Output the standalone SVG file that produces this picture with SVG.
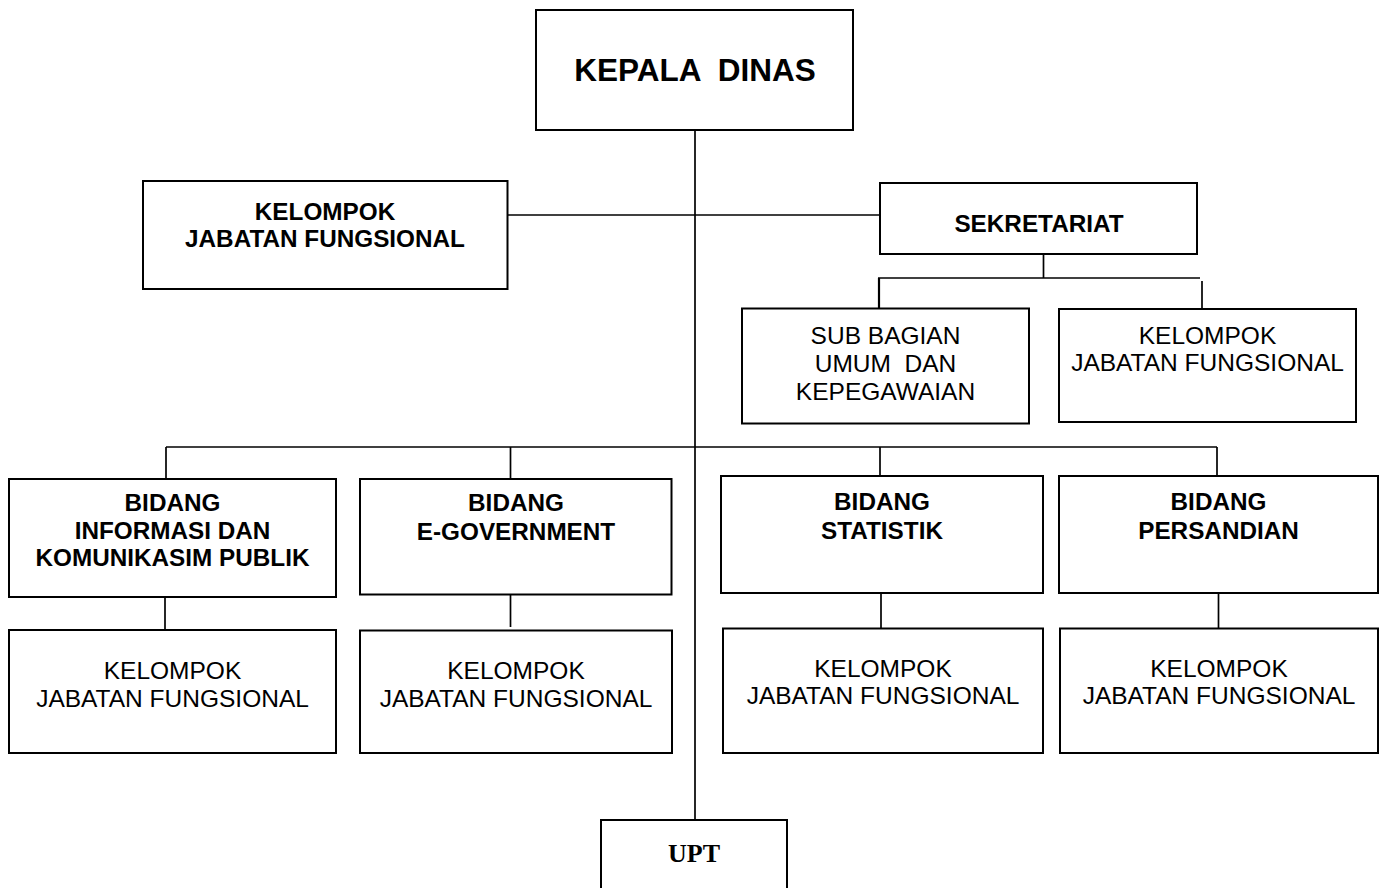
<svg xmlns="http://www.w3.org/2000/svg" width="1383" height="888" viewBox="0 0 1383 888">
<style>
.box{fill:#fff;stroke:#000;stroke-width:2}
.ln{fill:none;stroke:#000;stroke-width:1.7}
.ln2{fill:none;stroke:#000;stroke-width:2.2}
.b{font-family:"Liberation Sans",Arial,sans-serif;font-weight:bold;font-size:24.3px;text-anchor:middle;fill:#000}
.r{font-family:"Liberation Sans",Arial,sans-serif;font-size:24.5px;text-anchor:middle;fill:#000}
.t{font-family:"Liberation Sans",Arial,sans-serif;font-weight:bold;font-size:31.5px;text-anchor:middle;fill:#000}
.s{font-family:"Liberation Serif","Times New Roman",serif;font-weight:bold;font-size:26px;text-anchor:middle;fill:#000}
</style>
<rect width="1383" height="888" fill="#fff"/>
<g id="connectors">
<line class="ln" x1="695" y1="130" x2="695" y2="820"/>
<line class="ln" x1="507" y1="215" x2="880" y2="215"/>
<line class="ln" x1="1043.5" y1="254" x2="1043.5" y2="278"/>
<line class="ln" x1="878" y1="278" x2="1200" y2="278"/>
<line class="ln2" x1="879" y1="278" x2="879" y2="309"/>
<line class="ln" x1="1202" y1="281" x2="1202" y2="310"/>
<line class="ln" x1="166" y1="447" x2="1217" y2="447"/>
<line class="ln" x1="166" y1="447" x2="166" y2="479"/>
<line class="ln" x1="510.5" y1="447" x2="510.5" y2="479"/>
<line class="ln" x1="880" y1="447" x2="880" y2="476"/>
<line class="ln" x1="1217" y1="447" x2="1217" y2="476"/>
<line class="ln" x1="165" y1="597" x2="165" y2="630"/>
<line class="ln" x1="510.5" y1="595" x2="510.5" y2="627"/>
<line class="ln" x1="881" y1="593" x2="881" y2="628"/>
<line class="ln" x1="1218.5" y1="593" x2="1218.5" y2="628"/>
</g>
<g id="kepala-dinas">
<rect class="box" x="536" y="10" width="317" height="120"/>
<text class="t" x="695" y="81" xml:space="preserve">KEPALA  DINAS</text>
</g>
<g id="kjf-top">
<rect class="box" x="143" y="181" width="364.5" height="108"/>
<text class="b" x="325" y="220">KELOMPOK</text>
<text class="b" x="325" y="247">JABATAN FUNGSIONAL</text>
</g>
<g id="sekretariat">
<rect class="box" x="880" y="183" width="317" height="71"/>
<text class="b" x="1039" y="231.5">SEKRETARIAT</text>
</g>
<g id="subbag-umum">
<rect class="box" x="742" y="308.5" width="287" height="115"/>
<text class="r" x="885.5" y="343.5">SUB BAGIAN</text>
<text class="r" x="885.5" y="371.5" xml:space="preserve">UMUM  DAN</text>
<text class="r" x="885.5" y="399.5">KEPEGAWAIAN</text>
</g>
<g id="kjf-sekretariat">
<rect class="box" x="1059" y="309" width="297" height="113"/>
<text class="r" x="1207.5" y="343.5">KELOMPOK</text>
<text class="r" x="1207.5" y="371">JABATAN FUNGSIONAL</text>
</g>
<g id="bidang-ikp">
<rect class="box" x="9" y="479" width="327" height="118"/>
<text class="b" x="172.5" y="511">BIDANG</text>
<text class="b" x="172.5" y="538.5">INFORMASI DAN</text>
<text class="b" x="172.5" y="566">KOMUNIKASIM PUBLIK</text>
</g>
<g id="bidang-egov">
<rect class="box" x="360" y="479" width="311.5" height="115.5"/>
<text class="b" x="516" y="511">BIDANG</text>
<text class="b" x="516" y="540">E-GOVERNMENT</text>
</g>
<g id="bidang-statistik">
<rect class="box" x="721" y="476" width="322" height="117"/>
<text class="b" x="882" y="510">BIDANG</text>
<text class="b" x="882" y="539">STATISTIK</text>
</g>
<g id="bidang-persandian">
<rect class="box" x="1059" y="476" width="319" height="117"/>
<text class="b" x="1218.5" y="510">BIDANG</text>
<text class="b" x="1218.5" y="539">PERSANDIAN</text>
</g>
<g id="kjf-ikp">
<rect class="box" x="9" y="630" width="327" height="123"/>
<text class="r" x="172.5" y="679">KELOMPOK</text>
<text class="r" x="172.5" y="706.5">JABATAN FUNGSIONAL</text>
</g>
<g id="kjf-egov">
<rect class="box" x="360" y="630.5" width="312" height="122.5"/>
<text class="r" x="516" y="679">KELOMPOK</text>
<text class="r" x="516" y="706.5">JABATAN FUNGSIONAL</text>
</g>
<g id="kjf-statistik">
<rect class="box" x="723" y="628.5" width="320" height="124.5"/>
<text class="r" x="883" y="676.5">KELOMPOK</text>
<text class="r" x="883" y="703.5">JABATAN FUNGSIONAL</text>
</g>
<g id="kjf-persandian">
<rect class="box" x="1060" y="628.5" width="318" height="124.5"/>
<text class="r" x="1219" y="676.5">KELOMPOK</text>
<text class="r" x="1219" y="703.5">JABATAN FUNGSIONAL</text>
</g>
<g id="upt">
<rect class="box" x="601" y="820" width="186" height="100"/>
<text class="s" x="694" y="862">UPT</text>
</g>
</svg>
